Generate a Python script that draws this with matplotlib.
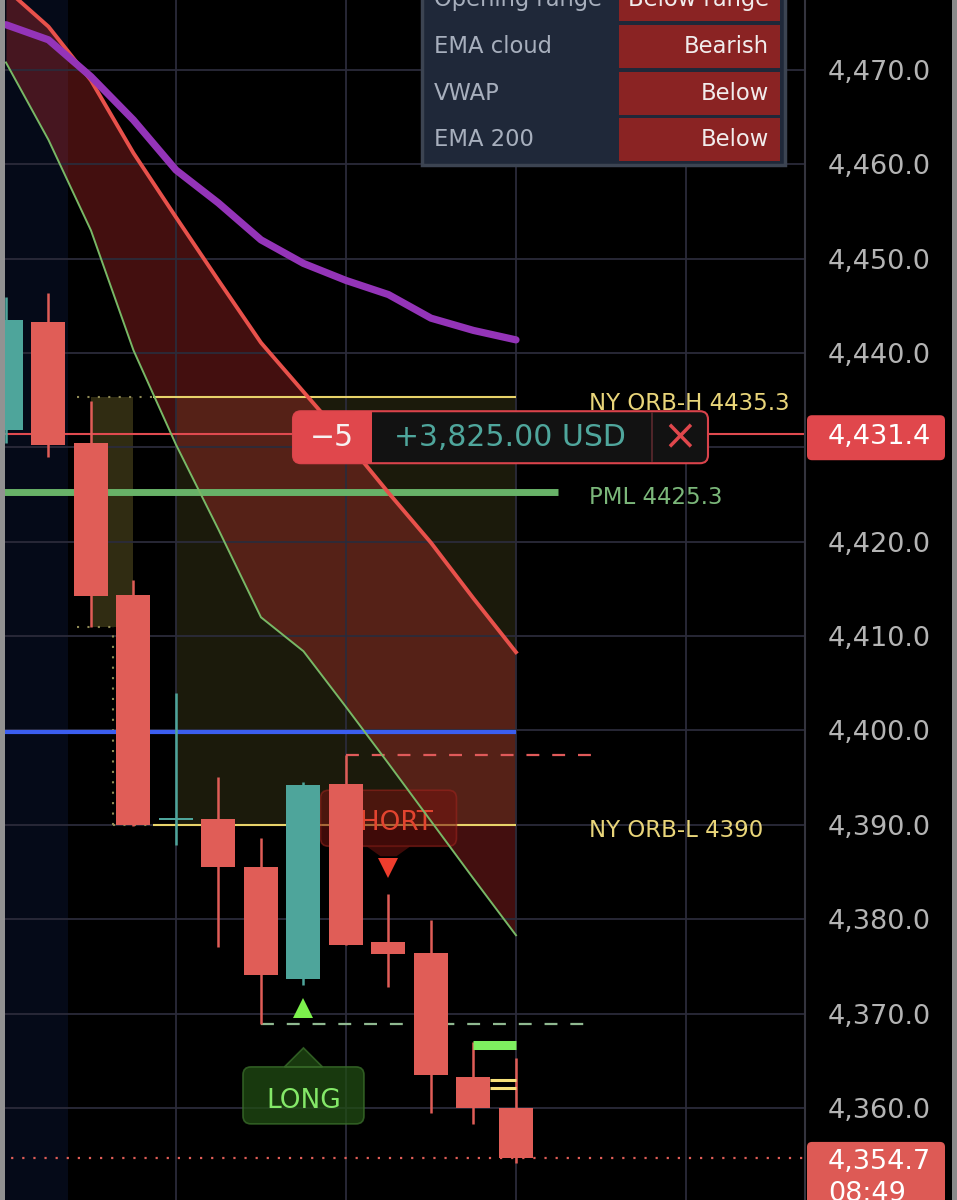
import numpy as np
import matplotlib.pyplot as plt
from matplotlib.patches import Rectangle, FancyBboxPatch, Polygon

plt.rcParams['font.family'] = ['DejaVu Sans']

# ---- candles (index 0 is the partly hidden bar at the left edge) ----
opens = [4431.9, 4443.3, 4430.5, 4414.4, 4390.5, 4390.6, 4385.5, 4373.7, 4394.3, 4377.6, 4376.4, 4363.3, 4360.0]
highs = [4445.9, 4446.4, 4434.9, 4416.0, 4404.0, 4395.1, 4388.6, 4394.5, 4397.4, 4382.7, 4379.9, 4367.0, 4365.3]
lows = [4430.5, 4429.0, 4411.0, 4389.9, 4387.9, 4377.1, 4368.9, 4373.0, 4377.3, 4372.8, 4359.5, 4358.3, 4354.2]
closes = [4443.5, 4430.3, 4414.3, 4390.0, 4390.5, 4385.5, 4374.1, 4394.2, 4377.3, 4376.3, 4363.5, 4360.0, 4354.7]

# ---- indicator lines ----
ema_fast = [4478.6, 4474.6, 4468.9, 4461.2, 4454.4, 4447.7, 4441.1, 4435.9, 4430.7, 4425.2, 4419.9, 4414.0, 4408.3]
ema_slow = [4470.8, 4462.6, 4453.0, 4440.3, 4430.3, 4421.3, 4412.0, 4408.4, 4402.5, 4396.5, 4390.4, 4384.3, 4378.3]
vwap = [4474.8, 4473.2, 4469.3, 4464.7, 4459.4, 4455.9, 4452.0, 4449.5, 4447.7, 4446.2, 4443.7, 4442.4, 4441.4]

# ---- levels ----
orb_high = 4435.3
orb_low = 4390.0
pml = 4425.3
round_level = 4399.8
position_price = 4431.4
short_stop = 4397.4
long_stop = 4368.9
last_price = 4354.7
last_time = "08:49"
target_level = 4366.7
entry_levels = [4363.0, 4362.1]
first_bar_high = 4435.3
first_bar_low = 4411.0

long_signal = (7, 4370.6)
short_signal = (9, 4385.4)

position_qty = "\u22125"
position_pnl = "+3,825.00 USD"

price_ticks = np.arange(4360, 4471, 10)
time_grid = [4, 8, 12, 16]

table_labels = ["Opening range", "EMA cloud", "VWAP", "EMA 200"]
table_values = ["Below range", "Bearish", "Below", "Below"]

RED = '#e05d57'
TEAL = '#4ea59b'
YELLOW = '#e8d36a'

W, H = 957, 1200
fig = plt.figure(figsize=(W / 100, H / 100), dpi=100, facecolor='black')
ax = fig.add_axes([0, 0, 805 / W, 1])
ax.set_facecolor('black')
ax.set_xlim(-0.14, 18.8)
ax.set_ylim(4350.24, 4477.42)

# pixel -> data size helpers
ppx = (ax.get_xlim()[1] - ax.get_xlim()[0]) / 805
ppy = (ax.get_ylim()[1] - ax.get_ylim()[0]) / H

# background shading
ax.axvspan(-0.14, 1.46, color='#050a18', lw=0, zorder=0.5)
ax.add_patch(Rectangle((4, orb_low), 8, orb_high - orb_low, facecolor='#1b1a0b', lw=0, zorder=1))
ax.add_patch(Rectangle((2, first_bar_low), 1, first_bar_high - first_bar_low,
                       facecolor='#302c12', lw=0, zorder=1))

idx = np.arange(len(opens))
ax.fill_between(idx, ema_fast, ema_slow, color=(0.85, 0.2, 0.2), alpha=0.31, lw=0, zorder=1.1)

# grid
ax.set_yticks(price_ticks)
ax.set_xticks(time_grid)
ax.grid(True, color='#2b2b3a', lw=1.3)
ax.tick_params(axis='x', length=0, labelbottom=False)
ax.yaxis.tick_right()
ax.tick_params(axis='y', length=0, pad=16.5, labelsize=19.5, labelcolor='#b4b4b4')
ax.yaxis.set_major_formatter(lambda v, p: f"{v:,.1f}")
for side in ['top', 'bottom', 'left']:
    ax.spines[side].set_visible(False)
ax.spines['right'].set_color('#34343e')
ax.spines['right'].set_linewidth(1.5)

# levels
dots = (0, (1, 4))
ax.hlines(orb_high, 1.67, 3.46, colors='#8f8a55', lw=1.5, linestyles=dots, zorder=2)
ax.hlines(first_bar_low, 1.67, 2.52, colors='#8f8a55', lw=1.5, linestyles=dots, zorder=2)
ax.vlines(2.52, orb_low, first_bar_low, colors='#8f8a55', lw=1.5, linestyles=dots, zorder=2)
ax.hlines(orb_low, 2.52, 3.46, colors='#8f8a55', lw=1.5, linestyles=dots, zorder=2)
ax.hlines([orb_high, orb_low], 3.46, 12, colors=YELLOW, lw=1.5, zorder=2.2)
ax.hlines(pml, -0.14, 13.0, colors='#68b268', lw=5, zorder=2.2)
ax.hlines(round_level, -0.14, 12, colors='#3b5ef0', lw=3, zorder=2.2)
ax.axhline(position_price, color='#e04a4f', lw=1.5, zorder=2.3)
ax.hlines(short_stop, 8, 13.86, colors='#e05a5a', lw=1.6, linestyles=(0, (5.8, 5.8)), zorder=2.2)
ax.hlines(long_stop, 6, 13.7, colors='#8fb890', lw=1.6, linestyles=(0, (5.8, 5.8)), zorder=2.2)
ax.axhline(last_price, color=RED, lw=1.6, linestyle=(0, (1, 4)), zorder=2.2)
ax.hlines(target_level, 11, 12, colors='#7ef060', lw=6.5, zorder=6)
ax.hlines(entry_levels, 11.4, 12, colors='#f5e07a', lw=2.2, zorder=6)

lab_off = 6 * ppy
ax.text(13.72, orb_high - lab_off, f"NY ORB-H {orb_high}", color='#e9d57a', fontsize=16.5, va='center', zorder=2)
ax.text(13.72, pml - lab_off, f"PML {pml}", color='#7bb77a', fontsize=16.5, va='center', zorder=2)
ax.text(13.72, orb_low - lab_off, f"NY ORB-L {orb_low:g}", color='#e9d57a', fontsize=16.5, va='center', zorder=2)

# signal labels
asp = ppy / ppx
sx, sy = short_signal
ax.add_patch(FancyBboxPatch((sx - 68 * ppx, sy + 22 * ppy), 136 * ppx, 56 * ppy,
                            boxstyle=f"round,pad=0,rounding_size={8 * ppx}", mutation_aspect=asp,
                            facecolor=(0.45, 0.08, 0.06, 0.55), edgecolor=(0.65, 0.15, 0.12, 0.5),
                            lw=1.2, zorder=2.5))
ax.add_patch(Polygon([(sx - 22 * ppx, sy + 22 * ppy), (sx + 22 * ppx, sy + 22 * ppy),
                      (sx + 8 * ppx, sy + 12 * ppy), (sx - 8 * ppx, sy + 12 * ppy)],
                     facecolor=(0.45, 0.08, 0.06, 0.55), lw=0, zorder=2.5))
ax.text(sx, sy + 45 * ppy, "SHORT", color='#e2442f', fontsize=19, ha='center', va='center', zorder=2.6)
ax.plot(sx, sy, marker='v', ms=14, color='#ee3d2d', mew=0, zorder=6)

lx, ly = long_signal
ax.add_patch(FancyBboxPatch((lx - 60.5 * ppx, ly - 116 * ppy), 121 * ppx, 57 * ppy,
                            boxstyle=f"round,pad=0,rounding_size={8 * ppx}", mutation_aspect=asp,
                            facecolor=(0.13, 0.3, 0.08, 0.75), edgecolor=(0.22, 0.42, 0.16, 0.8),
                            lw=1.2, zorder=2.5))
ax.add_patch(Polygon([(lx - 19 * ppx, ly - 59 * ppy), (lx, ly - 40 * ppy), (lx + 19 * ppx, ly - 59 * ppy)],
                     facecolor=(0.13, 0.3, 0.08, 0.75), edgecolor=(0.22, 0.42, 0.16, 0.8),
                     lw=1.2, zorder=2.5))
ax.text(lx, ly - 93 * ppy, "LONG", color='#84e868', fontsize=19, ha='center', va='center', zorder=2.6)
ax.plot(lx, ly, marker='^', ms=14, color='#7cf04c', mew=0, zorder=6)

# indicator lines
ax.plot(idx, ema_fast, color='#e8514b', lw=2.8, zorder=3)
ax.plot(idx, ema_slow, color='#78b866', lw=1.4, zorder=3)
ax.plot(idx, vwap, color='#9434b8', lw=5.2, solid_capstyle='round', zorder=3.1)

# candles
o, hi, lo, c = (np.array(a) for a in (opens, highs, lows, closes))
colors = np.where(c >= o, TEAL, RED)
body = np.maximum(np.abs(c - o), 0.25)
ax.vlines(idx, lo, hi, colors=colors, lw=1.8, zorder=4)
ax.bar(idx, body, bottom=np.minimum(o, c), width=0.8, color=colors, lw=0, zorder=5)

# ---- overlay (pixel space) for chart chrome ----
ui = fig.add_axes([0, 0, 1, 1], zorder=5)
ui.set_xlim(0, W)
ui.set_ylim(H, 0)
ui.axis('off')
ui.patch.set_alpha(0)


def ypx(price):
    return H - ax.transData.transform((0, price))[1]


# screen edges
ui.add_patch(Rectangle((0, 0), 5, H, facecolor='#929292', lw=0))
ui.add_patch(Rectangle((952, 0), 5, H, facecolor='#8a8a8a', lw=0))

# status table
ui.add_patch(Rectangle((422, -30), 363, 195, facecolor='#1f2839', edgecolor='#3c4452', lw=2.5))
for k, (lab, val) in enumerate(zip(table_labels, table_values)):
    cy = -0.5 + k * 46.8
    ui.add_patch(Rectangle((619, cy - 21.5), 161, 43, facecolor='#8a2323', lw=0))
    ui.text(434, cy, lab, color='#a7afbd', fontsize=16.3, va='center', ha='left')
    ui.text(769, cy, val, color='#f1ecec', fontsize=16.3, va='center', ha='right')

# position badge
py = ypx(position_price) + 3
ui.add_patch(FancyBboxPatch((293, py - 26), 415, 52, boxstyle="round,pad=0,rounding_size=8",
                            facecolor='#121212', edgecolor='#d9434b', lw=1.5))
ui.add_patch(FancyBboxPatch((293, py - 26), 79, 52, boxstyle="round,pad=0,rounding_size=8",
                            facecolor='#e0474c', lw=0))
ui.add_patch(Rectangle((355, py - 26), 17, 52, facecolor='#e0474c', lw=0))
ui.plot([652, 652], [py - 24, py + 24], color='#5c2a2e', lw=1.2)
ui.text(332, py, position_qty, color='#f7f2f2', fontsize=21.5, ha='center', va='center')
ui.text(510, py, position_pnl, color='#4fa69c', fontsize=21.5, ha='center', va='center')
ui.text(680, py, "\u00d7", color='#e0474c', fontsize=30, ha='center', va='center')

# price scale markers
ui.add_patch(FancyBboxPatch((807, py - 22), 138, 45, boxstyle="round,pad=0,rounding_size=5",
                            facecolor='#e0474c', lw=0))
ui.text(828, py, f"{position_price:,.1f}", color='white', fontsize=19.5, va='center', ha='left')

ly_px = ypx(last_price)
ui.add_patch(FancyBboxPatch((807, ly_px - 16), 138, 80, boxstyle="round,pad=0,rounding_size=5",
                            facecolor='#dd5a55', lw=0))
ui.text(828, ly_px + 4, f"{last_price:,.1f}", color='white', fontsize=19.5, va='center', ha='left')
ui.text(828, ly_px + 36, last_time, color='white', fontsize=19.5, va='center', ha='left')

fig.savefig('out.png', dpi=100, facecolor='black')
